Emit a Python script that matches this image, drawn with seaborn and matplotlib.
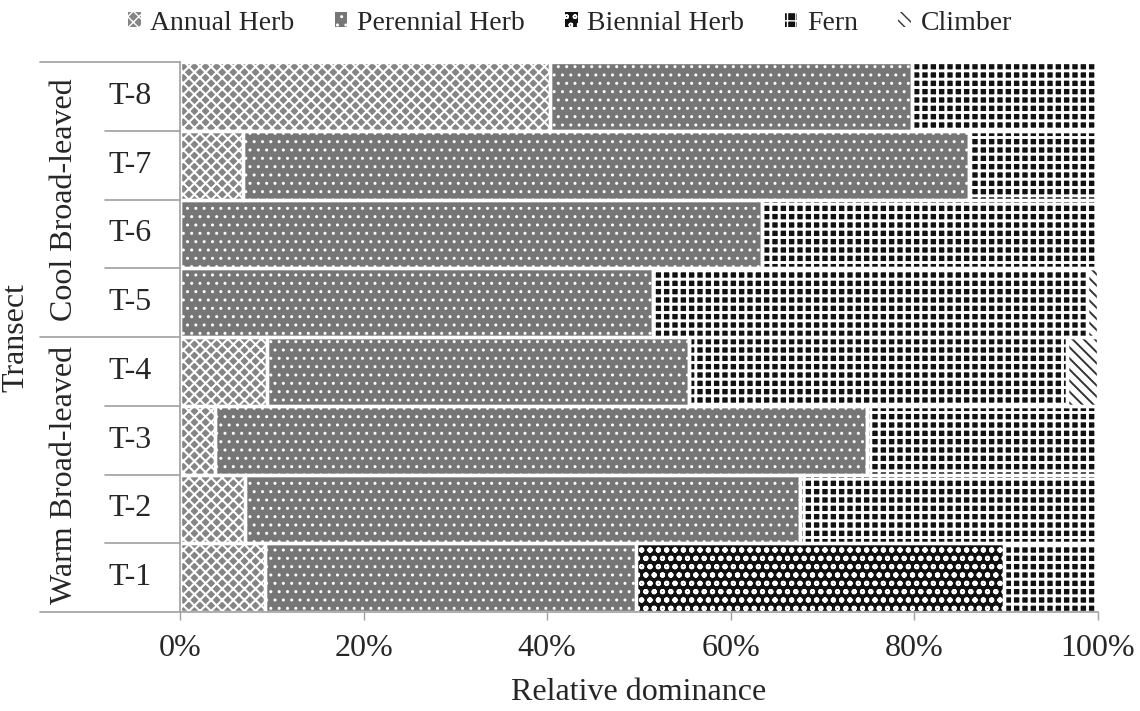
import numpy as np
import matplotlib
matplotlib.use("Agg")
import matplotlib.pyplot as plt
from matplotlib.patches import Patch
from matplotlib.ticker import PercentFormatter
from matplotlib.transforms import blended_transform_factory
import seaborn as sns

# ---------------- data ----------------
transects = ["T-8", "T-7", "T-6", "T-5", "T-4", "T-3", "T-2", "T-1"]
groups = ["Cool Broad-leaved", "Warm Broad-leaved"]
group_members = [4, 4]
series = ["Annual Herb", "Perennial Herb", "Biennial Herb", "Fern", "Climber"]
annual = [40.3, 6.9, 0.0, 0.0, 9.5, 3.8, 7.1, 9.3]
perennial = [39.4, 79.1, 63.4, 51.5, 45.9, 71.0, 60.4, 40.4]
biennial = [0.0, 0.0, 0.0, 0.0, 0.0, 0.0, 0.0, 40.1]
fern = [20.3, 14.0, 36.6, 47.3, 41.2, 25.2, 32.5, 10.0]
climber = [0.0, 0.0, 0.0, 1.2, 3.4, 0.0, 0.0, 0.0]
x_ticks = [0, 20, 40, 60, 80, 100]

# ---------------- styles ----------------
styles = [
    dict(face="#858585", hc="white", hatch="xxx", hlw=1.5),
    dict(face="#767676", hc="white", hatch="..", hlw=1.0),
    dict(face="#111111", hc="white", hatch="oo", hlw=1.4),
    dict(face="#111111", hc="white", hatch="++", hlw=2.1),
    dict(face="white", hc="#333333", hatch="\\\\\\", hlw=1.4),
]

sns.set_theme(style="white")
plt.rcParams["font.family"] = ["Liberation Serif", "DejaVu Serif"]
FS = 23
LFS = 20

fig = plt.figure(figsize=(11.4, 7.11), dpi=100)
W, H = 1140, 711
ax = fig.add_axes([180 / W, 1 - 612 / H, (1098 - 180) / W, (612 - 62) / H])

data = [annual, perennial, biennial, fern, climber]
left = np.zeros(len(transects))
for vals, st in zip(data, styles):
    with plt.rc_context({"hatch.linewidth": st["hlw"]}):
        sns.barplot(x=vals, y=transects, order=transects, orient="h", ax=ax,
                    width=1.0, errorbar=None, left=left.copy(),
                    color=st["face"], facecolor=st["face"], edgecolor=st["hc"],
                    hatch=st["hatch"], linewidth=0)
    left += np.array(vals)

# white separators around each segment
left = np.zeros(len(transects))
for vals in data:
    sns.barplot(x=vals, y=transects, order=transects, orient="h", ax=ax,
                width=1.0, errorbar=None, left=left.copy(),
                color="white", facecolor="none", edgecolor="white", linewidth=2.4)
    left += np.array(vals)

ax.set_xlim(0, 100)
ax.set_ylim(len(transects) - 0.5, -0.5)
ax.set_xticks(x_ticks)
ax.xaxis.set_major_formatter(PercentFormatter(100, decimals=0))
ax.tick_params(axis="x", direction="out", length=6, width=1, color="#a0a0a0",
               labelsize=FS, pad=10, bottom=True)
ax.tick_params(axis="y", length=0)
ax.set_yticks([])
ax.set_ylabel("")
ax.set_xlabel("Relative dominance", fontsize=FS, labelpad=11)
for s in ["top", "right"]:
    ax.spines[s].set_visible(False)
for s in ["left", "bottom"]:
    ax.spines[s].set_color("#a0a0a0")
    ax.spines[s].set_linewidth(1.2)
    ax.spines[s].set_zorder(5)

# multi-level category axis
tr = blended_transform_factory(fig.transFigure, ax.transData)
for i, t in enumerate(transects):
    ax.text(130 / W, i, t, transform=tr, ha="center", va="center", fontsize=FS)
pos = 0
for g, n in zip(groups, group_members):
    ax.text(65 / W, pos + (n - 1) / 2, g, transform=tr, ha="center", va="center",
            rotation=90, fontsize=FS)
    pos += n
boundaries = np.arange(len(transects) + 1) - 0.5
group_edges = set(np.cumsum([0] + group_members) - 0.5)
for b in boundaries:
    x0 = 40 / W if b in group_edges else 105 / W
    ax.plot([x0, 180 / W], [b, b], transform=tr, clip_on=False,
            color="#a0a0a0", lw=1.2)
ax.set_ylim(len(transects) - 0.5, -0.5)
fig.text(16 / W, 1 - 337 / H, "Transect", rotation=90, ha="center", va="center",
         fontsize=FS)

# legend
handles = []
for name, st in zip(series, styles):
    with plt.rc_context({"hatch.linewidth": st["hlw"] * 0.6}):
        handles.append(Patch(facecolor=st["face"], edgecolor=st["hc"],
                             hatch=st["hatch"], linewidth=0, label=name))
fig.legend(handles=handles, loc="upper center", bbox_to_anchor=(0.5, 1.02),
           ncol=5, frameon=False, fontsize=LFS, handlelength=0.45,
           handleheight=0.45, handletextpad=0.35, columnspacing=1.45)

fig.savefig("out.png", dpi=100)
